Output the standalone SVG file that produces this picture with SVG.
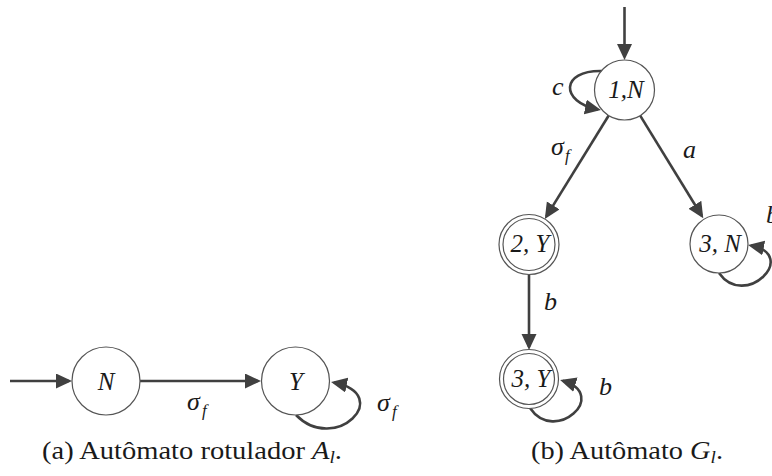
<svg xmlns="http://www.w3.org/2000/svg" width="772" height="476" viewBox="0 0 772 476">
  <style>
    .state { fill: #ffffff; stroke: #555555; stroke-width: 1.2; }
    .edge { fill: none; stroke: #404040; stroke-width: 2.6; marker-end: url(#arrow); }
    .lbl { font-family: "Liberation Serif", "DejaVu Serif", serif; font-style: italic; fill: #1a1a1a; }
    .node { font-size: 25px; text-anchor: middle; }
    .sym { font-size: 26px; }
    .sub { font-size: 17px; }
    .cap { font-family: "Liberation Serif", "DejaVu Serif", serif; font-size: 25px; fill: #1a1a1a; }
  </style>
  <defs>
    <marker id="arrow" markerUnits="userSpaceOnUse" markerWidth="18" markerHeight="16" viewBox="0 0 18 16" refX="13" refY="7.5" orient="auto">
      <path d="M0,0 L16,7.5 L0,15 Z" fill="#404040"/>
    </marker>
  </defs>

  <!-- (a) labelling automaton -->
  <g id="connectors-a">
    <line class="edge" x1="10" y1="381" x2="69" y2="381"/>
    <line class="edge" x1="140" y1="381" x2="258" y2="381"/>
    <path class="edge" d="M296,415 C335,455 395,395 334,382.5"/>
  </g>
  <g id="a-N">
    <circle class="state" cx="106" cy="381" r="34"/>
    <text class="lbl node" x="106" y="390">N</text>
  </g>
  <g id="a-Y">
    <circle class="state" cx="295.5" cy="381" r="34"/>
    <text class="lbl node" x="296" y="390">Y</text>
  </g>
  <g id="labels-a">
    <text class="lbl sym" x="187" y="410">σ</text>
    <text class="lbl sub" x="202" y="416">f</text>
    <text class="lbl sym" x="377" y="411">σ</text>
    <text class="lbl sub" x="392" y="417">f</text>
  </g>
  <text class="cap" x="42" y="459" textLength="300" lengthAdjust="spacingAndGlyphs">(a) Autômato rotulador <tspan font-style="italic">A</tspan><tspan font-style="italic" font-size="17" dy="4">l</tspan><tspan dy="-4">.</tspan></text>

  <!-- (b) automaton G_l -->
  <g id="connectors-b">
    <line class="edge" x1="624.5" y1="7" x2="624.5" y2="57"/>
    <path class="edge" d="M602,71 C560,70 560,102 598,109.5"/>
    <line class="edge" x1="608.7" y1="115.5" x2="546.4" y2="216.4"/>
    <line class="edge" x1="640.2" y1="115.6" x2="701.7" y2="215.8"/>
    <line class="edge" x1="529" y1="274.5" x2="529" y2="347"/>
    <path class="edge" d="M719,273 C745,310 800,255 751,245.5"/>
    <path class="edge" d="M530,408 C555,445 610,395 563,380.8"/>
  </g>
  <g id="b-1N">
    <circle class="state" cx="624.5" cy="90" r="30"/>
    <text class="lbl node" x="626" y="98">1,N</text>
  </g>
  <g id="b-2Y">
    <circle class="state" cx="529" cy="244.5" r="30"/>
    <circle class="state" cx="529" cy="244.5" r="26" fill="none"/>
    <text class="lbl node" x="530" y="252">2, Y</text>
  </g>
  <g id="b-3N">
    <circle class="state" cx="719" cy="244" r="29"/>
    <text class="lbl node" x="720" y="252">3, N</text>
  </g>
  <g id="b-3Y">
    <circle class="state" cx="529" cy="379" r="29.5"/>
    <circle class="state" cx="529" cy="379" r="25.5" fill="none"/>
    <text class="lbl node" x="531" y="387">3, Y</text>
  </g>
  <g id="labels-b">
    <text class="lbl sym" x="552" y="95">c</text>
    <text class="lbl sym" x="551" y="155">σ</text>
    <text class="lbl sub" x="565" y="161">f</text>
    <text class="lbl sym" x="683" y="158">a</text>
    <text class="lbl sym" x="766" y="223">b</text>
    <text class="lbl sym" x="544" y="310">b</text>
    <text class="lbl sym" x="599" y="395">b</text>
  </g>
  <text class="cap" x="531" y="459" textLength="192" lengthAdjust="spacingAndGlyphs">(b) Autômato <tspan font-style="italic">G</tspan><tspan font-style="italic" font-size="17" dy="4">l</tspan><tspan dy="-4">.</tspan></text>
</svg>
